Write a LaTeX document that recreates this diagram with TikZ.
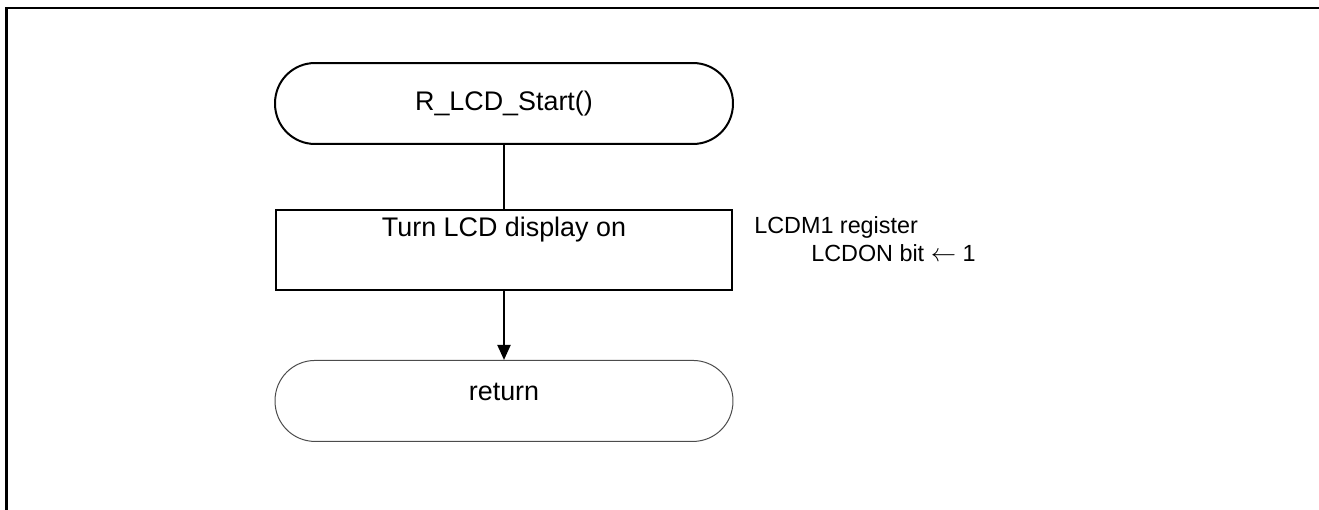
\documentclass[tikz,border=0pt]{standalone}
\usepackage{fontspec}
\setmainfont{Liberation Sans}
\usetikzlibrary{positioning}
\usetikzlibrary{arrows.meta}
\tikzset{
  terminal/.style={draw, rounded corners=0.8cm, minimum width=9.16cm,
      minimum height=1.62cm, font=\fontsize{15.3}{18}\selectfont},
  process/.style={draw, line width=0.04cm, minimum width=9.12cm,
      minimum height=1.6cm, align=center, font=\fontsize{15.3}{18}\selectfont},
  flow/.style={line width=0.04cm},
  note/.style={anchor=north west, align=left, inner sep=0,
      font=\fontsize{13.3}{15.9}\selectfont},
}

\begin{document}
\begin{tikzpicture}[x=0.02cm, y=-0.02cm]
      \useasboundingbox (0,0) rectangle (1319,510);
      \draw [line width=0.05cm] (6.5,510) -- (6.5,8) -- (1319,8);

      \node [terminal, line width=0.04cm] (start) at (504,103.5) {R\_LCD\_Start()};
      \node [process, below=1.28cm of start] (lcdon) {Turn LCD display on\\[0.3cm]\mbox{}};
      \node [terminal, line width=0.02cm, draw=black!70, text depth=0.36cm,
        below=1.38cm of lcdon] (ret) {return};

      \draw [flow] (start) -- (lcdon);
      \draw [flow, -{Triangle[length=0.3cm,width=0.26cm]}] (lcdon) -- (ret);

      \node [note] (lcdm1) at ([xshift=0.42cm,yshift=-0.14cm]lcdon.north east)
      {LCDM1 register\\\hspace*{1.14cm}LCDON bit $\leftarrow$ 1};
\end{tikzpicture}
\end{document}
